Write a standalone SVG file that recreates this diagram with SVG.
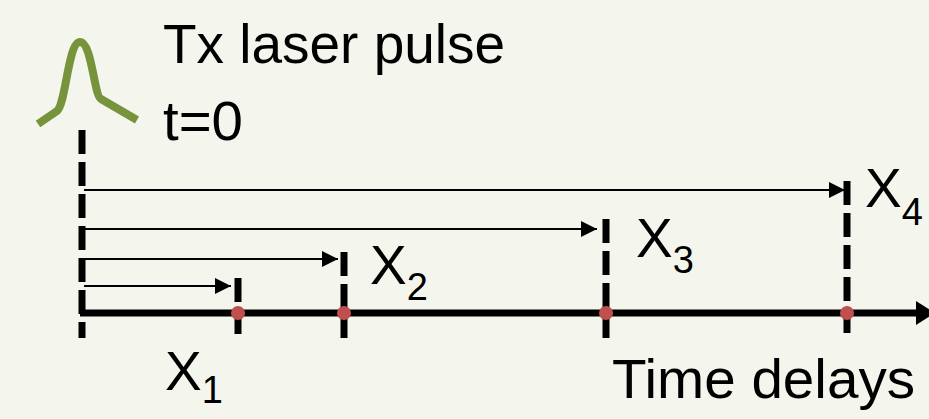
<svg xmlns="http://www.w3.org/2000/svg" width="929" height="419" viewBox="0 0 929 419">
<style>
.t{font-family:"Liberation Sans","Open Sans",Arial,sans-serif;fill:#000}
.dash{stroke:#000;stroke-width:7;stroke-dasharray:24 8;fill:none}
.arr{stroke:#000;stroke-width:2;fill:none;marker-end:url(#ah)}
.dot{fill:#C0504D}
</style>
<defs>
<marker id="ah" markerWidth="8" markerHeight="8" refX="8" refY="4" orient="auto" markerUnits="strokeWidth">
<path d="M0,0 L8,4 L0,8 Z" fill="#000"/>
</marker>
</defs>
<rect width="929" height="419" fill="#F4F6EE"/>
<g id="pulse">
<path d="M38,124 L57,111 C66,104 68,42 80,42 C92,42 94,96 101,99 L137,120" fill="none" stroke="#77933C" stroke-width="8" stroke-linejoin="round"/>
</g>
<g id="labels">
<text class="t" x="163" y="63" font-size="56" textLength="342" lengthAdjust="spacingAndGlyphs">Tx laser pulse</text>
<text class="t" x="163" y="140" font-size="56" textLength="80" lengthAdjust="spacingAndGlyphs">t=0</text>
<text class="t" x="612" y="398" font-size="56" textLength="303" lengthAdjust="spacingAndGlyphs">Time delays</text>
</g>
<g id="axis">
<line x1="82" y1="130" x2="82" y2="338" class="dash"/>
<line x1="80" y1="313" x2="920" y2="313" stroke="#000" stroke-width="7"/>
<polygon points="916,301 935,313 916,325" fill="#000"/>
</g>
<g id="connectors">
<line class="arr" x1="84" y1="190" x2="845" y2="190"/>
<line class="arr" x1="84" y1="229" x2="597" y2="229"/>
<line class="arr" x1="84" y1="259" x2="338" y2="259"/>
<line class="arr" x1="84" y1="286" x2="231" y2="286"/>
</g>
<g id="x1">
<line class="dash" x1="238" y1="278" x2="238" y2="338"/>
<circle class="dot" cx="238" cy="313" r="7"/>
<text class="t" x="165" y="390" font-size="55">X<tspan font-size="38" dy="13">1</tspan></text>
</g>
<g id="x2">
<line class="dash" x1="344" y1="252" x2="344" y2="338"/>
<circle class="dot" cx="344" cy="313" r="7"/>
<text class="t" x="370" y="284" font-size="55">X<tspan font-size="38" dy="16">2</tspan></text>
</g>
<g id="x3">
<line class="dash" x1="606" y1="219" x2="606" y2="338"/>
<circle class="dot" cx="606" cy="313" r="7"/>
<text class="t" x="636" y="257" font-size="55">X<tspan font-size="38" dy="16">3</tspan></text>
</g>
<g id="x4">
<line class="dash" x1="847" y1="181" x2="847" y2="334"/>
<circle class="dot" cx="847" cy="313" r="7"/>
<text class="t" x="865" y="207" font-size="55">X<tspan font-size="38" dy="18">4</tspan></text>
</g>
</svg>
